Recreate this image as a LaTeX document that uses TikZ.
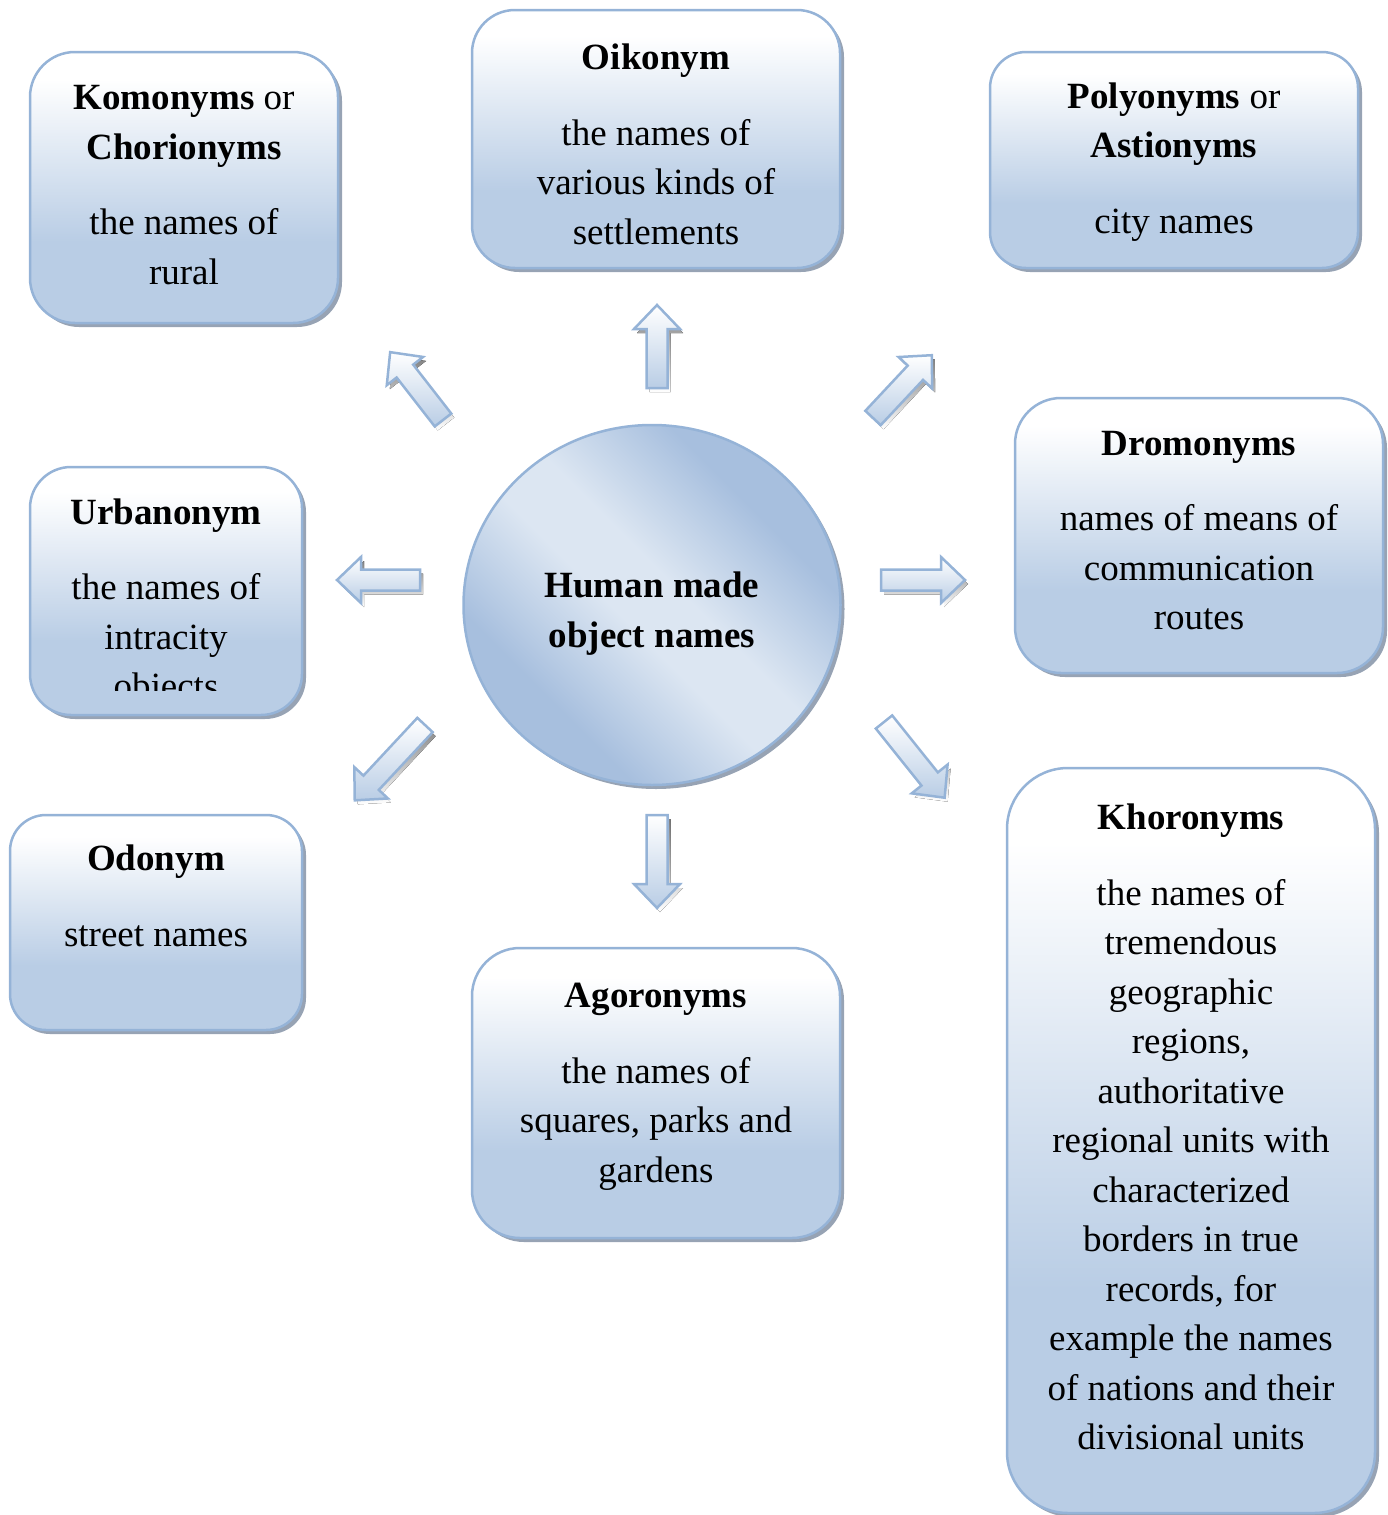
\documentclass[tikz,border=0pt]{standalone}
\usepackage{fontspec}
\setmainfont{Liberation Serif}
\usetikzlibrary{shadows,shapes.geometric}

\definecolor{edge}{HTML}{95B3D7}
\definecolor{fillblue}{HTML}{B9CDE5}
\definecolor{shade}{HTML}{97A3B4}
\definecolor{cdark}{HTML}{A7BFDE}
\definecolor{clight}{HTML}{DCE6F2}

% box fill: white at the top, light blue towards the bottom
\pgfdeclareverticalshading{boxgrad}{100bp}{color(0bp)=(fillblue); color(40bp)=(fillblue); color(70bp)=(white); color(100bp)=(white)}
% disc fill: darker at two opposite sides, light band through the middle
\pgfdeclareverticalshading{discgrad}{100bp}{color(0bp)=(cdark); color(31bp)=(cdark); color(46bp)=(clight); color(54bp)=(clight); color(69bp)=(cdark); color(100bp)=(cdark)}

\tikzset{
  box/.style={draw=edge, line width=2.5pt, shading=boxgrad, rounded corners=#1,
    drop shadow={shadow xshift=4pt, shadow yshift=-4pt, fill=shade, opacity=1}},
  txt/.style={align=center, inner sep=0pt, anchor=north,
    font=\fontsize{37pt}{49.5pt}\selectfont},
  disc/.style={ellipse, draw=edge, line width=2.5pt, shading=discgrad, shading angle=-45,
    drop shadow={shadow xshift=4pt, shadow yshift=-4pt, fill=shade, opacity=1}},
  disctext/.style={align=center, inner sep=0pt, font=\fontsize{37pt}{50pt}\selectfont\bfseries},
  arrowbody/.style={draw=edge, line width=2.5pt, top color=white, bottom color=fillblue},
}

% block arrow: tail at (#1,#2), pointing at angle #3, length #4
\newcommand{\flowarrow}[4]{%
  \begin{scope}[shift={(#1+3,#2+4)}, rotate=#3]
    \fill[shade] (0,-10.5) -- (#4-24,-10.5) -- (#4-24,-23) -- (#4,0) -- (#4-24,23) -- (#4-24,10.5) -- (0,10.5) -- cycle;
  \end{scope}
  \begin{scope}[shift={(#1,#2)}, rotate=#3]
    \path[arrowbody] (0,-10.5) -- (#4-24,-10.5) -- (#4-24,-23) -- (#4,0) -- (#4-24,23) -- (#4-24,10.5) -- (0,10.5) -- cycle;
  \end{scope}}

\begin{document}
\begin{tikzpicture}[x=1pt, y=-1pt]
\useasboundingbox (0,0) rectangle (1387,1515);

% outer boxes
\node[box=45pt, minimum width=308pt, minimum height=271pt] (komo) at (184,187.5) {};
\node[box=43pt, minimum width=368pt, minimum height=258pt] (oiko) at (656,139) {};
\node[box=36pt, minimum width=368pt, minimum height=216pt] (poly) at (1174,160) {};
\node[box=46pt, minimum width=368pt, minimum height=275pt] (dromo) at (1199,535.5) {};
\node[box=41pt, minimum width=272pt, minimum height=248pt] (urban) at (166,591) {};
\node[box=36pt, minimum width=292pt, minimum height=215pt] (odo) at (156,922.5) {};
\node[box=48pt, minimum width=368pt, minimum height=290pt] (agor) at (656,1093) {};
\node[box=61pt, minimum width=368pt, minimum height=745pt] (khor) at (1191,1140.5) {};

% box texts
\node[txt] (komoT) at (184,85.5) {\textbf{Komonyms} or\\\textbf{Chorionyms}\\[26pt]the names of\\rural};
\node[txt] (oikoT) at (656,44) {\textbf{Oikonym}\\[26pt]the names of\\various kinds of\\settlements};
\node[txt] (polyT) at (1174,82.5) {\textbf{Polyonyms} or\\\textbf{Astionyms}\\[26pt]city names};
\node[txt] (dromoT) at (1199,431) {\textbf{Dromonyms}\\[26pt]names of means of\\communication\\routes};
\begin{scope}
  \clip (30,467) rectangle (302,690);
  \node[txt] (urbanT) at (166,498.5) {\textbf{Urbanonym}\\[26pt]the names of\\intracity\\objects};
\end{scope}
\node[txt] (odoT) at (156,845) {\textbf{Odonym}\\[26pt]street names};
\node[txt] (agorT) at (656,983) {\textbf{Agoronyms}\\[26pt]the names of\\squares, parks and\\gardens};
\node[txt] (khorT) at (1191,804) {\textbf{Khoronyms}\\[26pt]the names of\\tremendous\\geographic\\regions,\\authoritative\\regional units with\\characterized\\borders in true\\records, for\\example the names\\of nations and their\\divisional units};

% central disc
\node[disc, minimum width=377pt, minimum height=360pt] (hub) at (652,605) {};
\node[disctext] (hubT) at (652,614) {Human made\\object names};

% block arrows around the disc
\flowarrow{657}{388}{90}{83}
\flowarrow{443}{420}{127.9}{86}
\flowarrow{873}{418}{46.9}{86}
\flowarrow{420}{580}{180}{83}
\flowarrow{881}{580}{0}{84}
\flowarrow{425}{725}{227}{103}
\flowarrow{657}{815}{270}{93}
\flowarrow{884}{722}{-51.3}{97}

\end{tikzpicture}
\end{document}
